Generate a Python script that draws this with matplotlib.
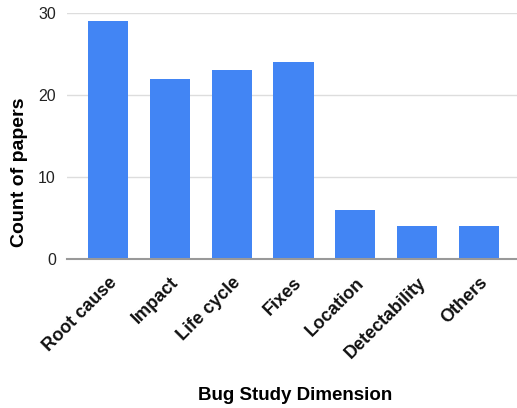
import matplotlib
matplotlib.use("Agg")
import matplotlib.pyplot as plt

categories = ["Root cause", "Impact", "Life cycle", "Fixes", "Location", "Detectability", "Others"]
values = [29, 22, 23, 24, 6, 4, 4]
yticks = [0, 10, 20, 30]

plt.rcParams['font.family'] = ['Liberation Sans', 'DejaVu Sans']

fig = plt.figure(figsize=(5.17, 4.08), dpi=100)
ax = fig.add_axes([67/517, 149/408, 450/517, 246/408])

x = list(range(len(categories)))
ax.bar(x, values, width=0.65, color="#4285F4", zorder=3)

ax.set_xlim(-0.663, 6.615)
ax.set_ylim(0, 30)
ax.set_yticks(yticks)
ax.set_yticklabels([str(t) for t in yticks], fontsize=11.5, color="#222222")
ax.yaxis.grid(True, color="#dddddd", linewidth=1, zorder=0)
ax.tick_params(axis='y', length=0, pad=8)
ax.tick_params(axis='x', length=0, pad=11)
ax.set_xticks(x)
ax.set_xticklabels(categories, rotation=45, ha='right', rotation_mode='anchor',
                   fontsize=13, fontweight='bold', color="#111111")
for s in ['top', 'right', 'left']:
    ax.spines[s].set_visible(False)
ax.spines['bottom'].set_color("#999999")
ax.spines['bottom'].set_linewidth(1.5)
ax.spines['bottom'].set_zorder(4)

fig.text(20/517, 1 - 172/408, "Count of papers", rotation=90, ha='center', va='center',
         fontsize=14, fontweight='bold')
fig.text(295/517, 1 - 396/408, "Bug Study Dimension", ha='center', va='center',
         fontsize=13.5, fontweight='bold')

fig.savefig("out.png", dpi=100)
